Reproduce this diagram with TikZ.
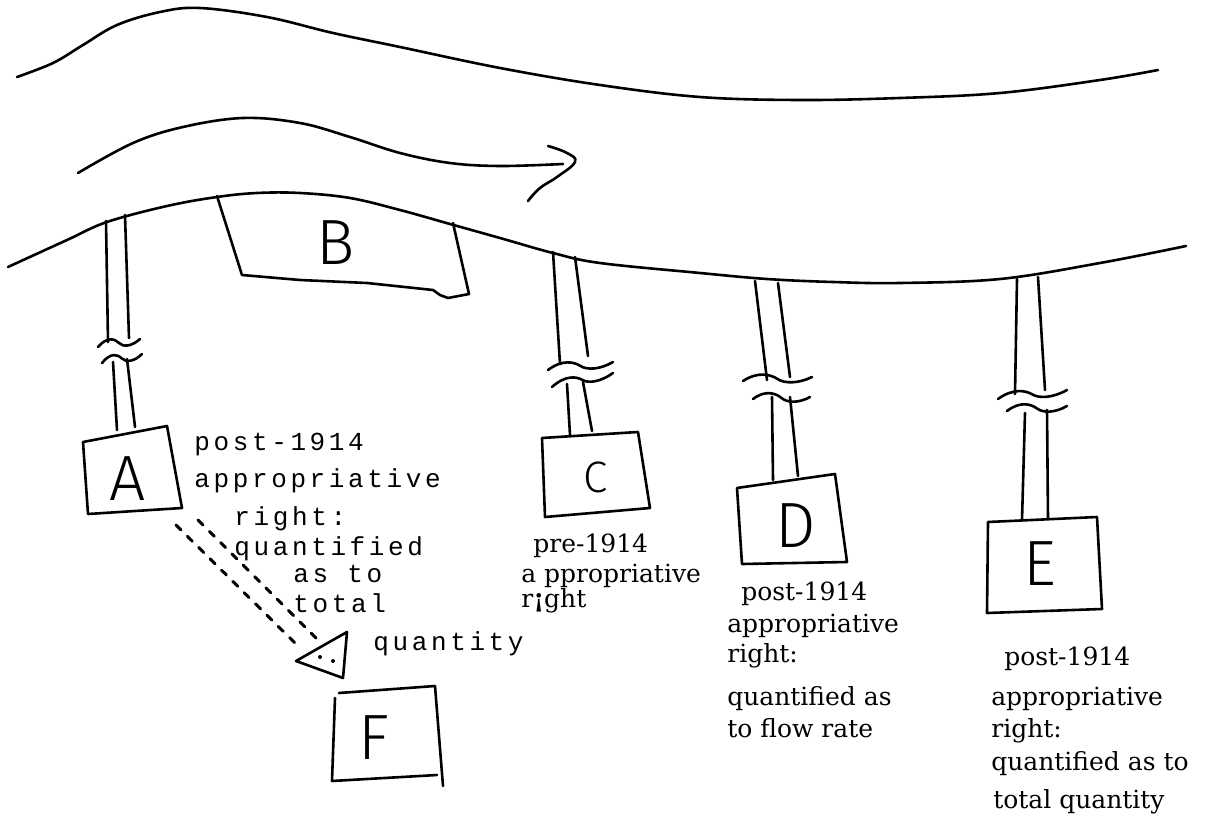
\documentclass[tikz,border=0pt]{standalone}
\usepackage{fontspec}
\usetikzlibrary{calc}
\newfontfamily\twfont[LetterSpace=14]{Liberation Mono}
\newfontfamily\labfont{DejaVu Serif}
\newfontfamily\handfont{Fira Sans Light}
\newcommand\brkwave[2]{\draw #1 .. controls ($#1!0.22!#2+(0,-9)$) and ($#1!0.4!#2+(0,-5)$) .. ($#1!0.5!#2$) .. controls ($#1!0.6!#2+(0,5)$) and ($#1!0.8!#2+(0,6)$) .. #2;}
\begin{document}
\begin{tikzpicture}[x=1pt,y=-1pt,line width=2.6pt,line cap=round,line join=round,
  mono/.style={font=\twfont\fontsize{26}{30}\selectfont,anchor=base west,inner sep=0pt},
  serif/.style={font=\labfont\fontsize{25}{29}\selectfont,anchor=base west,inner sep=0pt},
  letter/.style={font=\handfont\fontsize{64}{70}\selectfont,inner sep=0pt},
  dsh/.style={line width=3pt,dash pattern=on 7pt off 9pt}]
\fill[white] (0,0) rectangle (1205,819);
\useasboundingbox (0,0) rectangle (1205,819);
% river banks
\draw plot[smooth,tension=0.6] coordinates {(17,77) (53,63) (83,45) (117,25) (160,12) (200,8) (267,17) (333,33) (400,47) (500,68) (600,85) (700,97) (800,100) (900,98) (1000,93) (1100,80) (1158,70)};
\draw plot[smooth,tension=0.6] coordinates {(8,267) (67,240) (107,222) (167,206) (217,197) (257,193) (300,193) (350,198) (400,210) (450,224) (500,238) (553,253) (600,263) (700,273) (767,279) (833,282) (900,283) (1000,279) (1100,263) (1186,246)};
% flow arrow
\draw plot[smooth,tension=0.6] coordinates {(78,173) (133,143) (183,127) (243,118) (300,123) (350,137) (400,153) (450,163) (500,166) (563,164)};
\draw plot[smooth,tension=0.7] coordinates {(548,146) (567,153) (575,162) (557,177) (540,188) (528,201)};
% B
\draw (217,196) -- (242,275) -- (300,280) -- (367,283) -- (433,290) -- (440,295) -- (448,298) -- (469,294) -- (453,223);
\node[letter] (B) at (336,243) {B};
% pipe A
\draw (106,221) -- (108,342);
\draw (125,215) -- (129,338);
\brkwave{(98,347)}{(140,339)}
\brkwave{(102,363)}{(142,354)}
\draw (113,362) -- (117,430);
\draw (127,359) -- (135,427);
\draw (83,442) -- (167,426) -- (182,508) -- (88,514) -- cycle;
\node[letter] (A) at (128,479) {A};
% pipe C
\draw (553,252) -- (560,364);
\draw (575,257) -- (588,356);
\brkwave{(548,370)}{(613,362)}
\brkwave{(552,387)}{(613,373)}
\draw (567,384) -- (570,435);
\draw (583,382) -- (592,431);
\draw (542,438) -- (638,432) -- (650,508) -- (545,517) -- cycle;
\node[letter,font=\handfont\fontsize{44}{50}\selectfont] (C) at (596,477) {C};
% pipe D
\draw (755,281) -- (767,380);
\draw (778,283) -- (790,377);
\brkwave{(743,381)}{(812,377)}
\brkwave{(753,399)}{(810,397)}
\draw (772,397) -- (773,480);
\draw (790,397) -- (798,476);
\draw (737,488) -- (835,474) -- (847,562) -- (742,564) -- cycle;
\node[letter] (D) at (796,526) {D};
% pipe E
\draw (1017,279) -- (1015,394);
\draw (1038,277) -- (1045,390);
\brkwave{(998,399)}{(1067,390)}
\brkwave{(1007,411)}{(1067,406)}
\draw (1025,413) -- (1022,520);
\draw (1047,410) -- (1048,519);
\draw (988,522) -- (1097,517) -- (1102,609) -- (987,613) -- cycle;
\node[letter] (E) at (1040,564) {E};
% triangle and F
\coordinate (a1) at (176,525);
\coordinate (a2) at (198,520);
\coordinate (t1) at (300,648);
\coordinate (t2) at (320,642);
\draw[dsh] (a1) -- (t1);
\draw[dsh] (a2) -- (t2);
\draw (347,632) -- (296,661) -- (343,678) -- cycle;
\fill (320,657) circle (2);
\fill (333,661) circle (2);
\draw (339,693) -- (435,686) -- (443,786);
\draw (437,775) -- (332,781) -- (335,698);
\node[letter] (F) at (374,738) {F};
% text A
\node[mono] at (193,450) {post-1914};
\node[mono] at (193,487) {appropriative};
\node[mono] at (233,525) {right:};
\node[mono] at (233,555) {quantified};
\node[mono] at (292,582) {as to};
\node[mono] at (292,612) {total};
\node[mono] at (372,650) {quantity};
% text C
\node[serif] at (532,552) {pre-1914};
\node[serif] at (520,582) {a ppropriative};
\node[serif] at (520,607) {r\textbf{¡}ght};
% text D
\node[serif] at (740,600) {post-1914};
\node[serif] at (726,632) {appropriative};
\node[serif] at (726,662) {right:};
\node[serif] at (726,705) {quantified as};
\node[serif] at (726,737) {to flow rate};
% text E
\node[serif] at (1003,665) {post-1914};
\node[serif] at (990,705) {appropriative};
\node[serif] at (990,737) {right:};
\node[serif] at (990,770) {quantified as to};
\node[serif] at (992,808) {total quantity};
\end{tikzpicture}
\end{document}
